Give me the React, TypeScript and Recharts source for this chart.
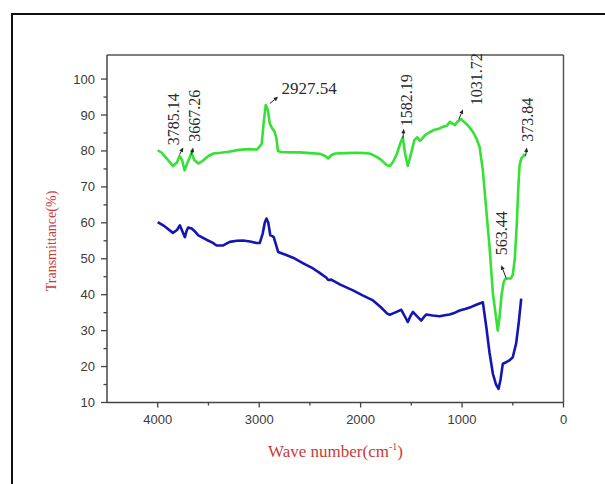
import { Label, Line, LineChart, ReferenceDot, ReferenceLine, XAxis, YAxis } from "recharts";

// green spectrum (upper)
const greenWn = [
  4000, 3960, 3900, 3850, 3810, 3785, 3760, 3735, 3710, 3690, 3667, 3640, 3600, 3560, 3500, 3450, 3380, 3300,
  3200, 3100, 3020, 2975, 2955, 2935, 2915, 2895, 2870, 2850, 2830, 2815, 2780, 2700, 2600, 2500, 2400, 2350,
  2320, 2290, 2250, 2150, 2050, 1950, 1900, 1850, 1800, 1740, 1710, 1680, 1645, 1610, 1585, 1560, 1535, 1510,
  1470, 1440, 1415, 1390, 1365, 1320, 1280, 1230, 1190, 1150, 1120, 1095, 1070, 1040, 1010, 990, 960, 930, 893,
  860, 827, 795, 761, 729, 696, 648, 630, 610, 590, 575, 550, 520, 500, 480, 460, 445, 433, 415, 395, 385,
];
const greenT = [
  80.2, 79.5, 77.5, 75.8, 76.8, 78.6, 77.5, 74.6, 76.5, 77.8, 79.6, 77.5, 76.5, 77.2, 78.6, 79.3, 79.5, 79.8,
  80.3, 80.5, 80.4, 82, 88, 92.8, 91.5, 87.6, 86.2, 85.5, 83.5, 80, 79.7, 79.6, 79.6, 79.4, 79.2, 78.6,
  77.9, 78.8, 79.3, 79.4, 79.5, 79.4, 79.2, 78.5, 77.6, 76, 75.8, 77, 79, 82, 83.8, 79, 75.8, 78.5,
  83, 83.8, 82.8, 83.5, 84.4, 85.2, 85.8, 86.2, 86.7, 87, 88.1, 87.6, 87.2, 88.3, 88.9, 88.3, 87.6, 86.7, 85.3,
  83.6, 81.1, 74.6, 63.5, 53.3, 40.3, 30, 34, 40, 43.5, 44.3, 44.5, 44.5, 45.5, 50, 60, 70, 76, 78, 78.5, 79.2,
];

// blue spectrum (lower)
const blueWn = [
  4000, 3930, 3850, 3810, 3782, 3755, 3732, 3715, 3700, 3665, 3630, 3600, 3520, 3460, 3420, 3355, 3290, 3220,
  3158, 3090, 3026, 2994, 2965, 2945, 2928, 2910, 2890, 2870, 2856, 2835, 2813, 2740, 2666, 2570, 2469, 2400,
  2337, 2320, 2290, 2200, 2075, 1980, 1878, 1800, 1740, 1713, 1680, 1640, 1599, 1565, 1534, 1510, 1484, 1450,
  1402, 1375, 1352, 1290, 1221, 1170, 1123, 1070, 1024, 970, 909, 860, 795, 761, 730, 696, 665, 640, 620,
  598, 565, 530, 500, 467, 440, 417,
];
const blueT = [
  60.2, 59, 57.2, 58, 59.3, 57.5, 56, 57.8, 58.7, 58.4, 57.5, 56.5, 55.3, 54.5, 53.7, 53.7, 54.7, 55,
  55.1, 54.8, 54.4, 54.4, 57, 60, 61.2, 60, 56.5, 56.3, 56, 54, 51.9, 51.1, 50.3, 48.8, 47.3, 46,
  44.7, 44.1, 44.2, 42.8, 41.2, 39.8, 38.4, 36.5, 34.8, 34.4, 34.8, 35.3, 35.8, 34, 32.4, 34, 35.2, 34.2,
  32.8, 33.8, 34.5, 34.2, 34, 34.3, 34.5, 35, 35.6, 36, 36.6, 37.2, 37.9, 31, 24, 18, 15, 13.8, 16.5,
  20.8, 21.2, 21.8, 22.6, 26.4, 32.5, 38.9,
];

const xTicks = [4000, 3500, 3000, 2500, 2000, 1500, 1000, 500, 0];
const yTicks = [10, 15, 20, 25, 30, 35, 40, 45, 50, 55, 60, 65, 70, 75, 80, 85, 90, 95, 100];

// peak annotations
const peakLabels = ["3785.14", "3667.26", "2927.54", "1582.19", "1031.72", "373.84", "563.44"];
const peakWn = [3785.14, 3667.26, 2927.54, 1582.19, 1031.72, 373.84, 563.44];
const peakT = [79, 79, 93, 83.5, 88.8, 78.5, 44.5];

// pixel offsets from the anchor: arrow tail, arrow tip, text spot
const annotLayout = [
  { rot: true, size: 16, tail: [0, 0], tip: [3.7, -7], text: [-5.6, -9.4] },
  { rot: true, size: 16, tail: [0, 0], tip: [1.7, -7], text: [3.7, -12.7] },
  { rot: false, size: 17, tail: [3.3, -0.8], tip: [11.6, -7.4], text: [15, -9.8] },
  { rot: true, size: 16, tail: [0, 0], tip: [0.7, -9.5], text: [3.4, -12] },
  { rot: true, size: 16, tail: [0, 0], tip: [4.1, -9.9], text: [18, -14.2] },
  { rot: true, size: 16, tail: [0, 0], tip: [1.2, -8.9], text: [2.2, -14.5] },
  { rot: true, size: 16, tail: [0, 0], tip: [-5.1, -13.2], text: [-5.1, -23.2] },
];

const greenData = greenWn.map((wn, i) => ({ wn, t: greenT[i] }));
const blueData = blueWn.map((wn, i) => ({ wn, t: blueT[i] }));

const Y_TOP = 106.7;
const SANS = "'Liberation Sans', Arial, sans-serif";
const SERIF = "'Liberation Serif', 'Times New Roman', serif";
const AXIS = "#444";
const TITLE = "#c93a3a";

const XTick = (props: any) => {
  const { x, y, payload } = props;
  const major = payload.value % 1000 === 0;
  return (
    <g>
      <line x1={x} x2={x} y1={y} y2={y + (major ? 5 : 3)} stroke={AXIS} strokeWidth={1.3} />
      {major && (
        <text x={x} y={y + 21} textAnchor="middle" fontFamily={SANS} fontSize={13} fill="#3a3a3a">
          {payload.value}
        </text>
      )}
    </g>
  );
};

const YTick = (props: any) => {
  const { x, y, payload } = props;
  const major = payload.value % 10 === 0;
  return (
    <g>
      <line x1={x - (major ? 6 : 3.5)} x2={x} y1={y} y2={y} stroke={AXIS} strokeWidth={1.3} />
      {major && (
        <text x={x - 12} y={y + 4.5} textAnchor="end" fontFamily={SANS} fontSize={13} fill="#3a3a3a">
          {payload.value}
        </text>
      )}
    </g>
  );
};

function Annotation({ cx, cy, idx }: { cx: number; cy: number; idx: number }) {
  const l = annotLayout[idx];
  const x1 = cx + l.tail[0];
  const y1 = cy + l.tail[1];
  const x2 = cx + l.tip[0];
  const y2 = cy + l.tip[1];
  const ang = Math.atan2(y2 - y1, x2 - x1);
  const hl = 4.5;
  const hw = 2;
  const bx = x2 - hl * Math.cos(ang);
  const by = y2 - hl * Math.sin(ang);
  const head = `${x2},${y2} ${bx - hw * Math.sin(ang)},${by + hw * Math.cos(ang)} ${bx + hw * Math.sin(ang)},${by - hw * Math.cos(ang)}`;
  const tx = cx + l.text[0];
  const ty = cy + l.text[1];
  return (
    <g>
      <line x1={x1} y1={y1} x2={bx} y2={by} stroke="#222" strokeWidth={1} />
      <polygon points={head} fill="#222" />
      {l.rot ? (
        <text
          transform={`translate(${tx},${ty}) rotate(-90)`}
          textAnchor="start"
          dy="0.33em"
          fontFamily={SERIF}
          fontSize={l.size}
          fill="#2a2a2a"
        >
          {peakLabels[idx]}
        </text>
      ) : (
        <text x={tx} y={ty} fontFamily={SERIF} fontSize={l.size} fill="#2a2a2a">
          {peakLabels[idx]}
        </text>
      )}
    </g>
  );
}

export default function App() {
  return (
    <div style={{ position: "absolute", left: 0, top: 0, width: 605, height: 484, overflow: "hidden", background: "#fff" }}>
      <div
        style={{
          position: "absolute",
          left: 11,
          top: 13,
          width: 594,
          height: 471,
          boxSizing: "border-box",
          borderLeft: "2px solid #111",
          borderTop: "2px solid #111",
        }}
      />
      <div style={{ position: "absolute", left: 0, top: 0 }}>
        <LineChart width={605} height={484} data={greenData} margin={{ top: 55, right: 41.5, left: 60, bottom: 41.5 }}>
          <XAxis
            dataKey="wn"
            type="number"
            domain={[0, 4500]}
            reversed
            ticks={xTicks}
            interval={0}
            height={40}
            tickLine={false}
            tickSize={0}
            tickMargin={0}
            tick={XTick}
            axisLine={{ stroke: AXIS, strokeWidth: 1.5 }}
          >
            <Label
              content={() => (
                <text x={335.5} y={457} textAnchor="middle" fontFamily={SERIF} fontSize={17} fill={TITLE}>
                  Wave number(cm
                  <tspan dy={-7} fontSize={10}>
                    -1
                  </tspan>
                  <tspan dy={7}>)</tspan>
                </text>
              )}
            />
          </XAxis>
          <YAxis
            type="number"
            domain={[10, Y_TOP]}
            ticks={yTicks}
            interval={0}
            width={47}
            tickLine={false}
            tickSize={0}
            tickMargin={0}
            tick={YTick}
            axisLine={{ stroke: AXIS, strokeWidth: 1.5 }}
          >
            <Label
              content={() => (
                <text
                  transform="translate(56,241) rotate(-90)"
                  textAnchor="middle"
                  fontFamily={SERIF}
                  fontSize={14}
                  fill={TITLE}
                >
                  Transmittance(%)
                </text>
              )}
            />
          </YAxis>
          <ReferenceLine y={Y_TOP} stroke="#555" strokeWidth={1.5} />
          <ReferenceLine x={0} stroke="#555" strokeWidth={1.5} />
          <Line
            data={greenData}
            dataKey="t"
            type="linear"
            stroke="#36e136"
            strokeWidth={2.6}
            strokeLinejoin="round"
            dot={false}
            isAnimationActive={false}
          />
          <Line
            data={blueData}
            dataKey="t"
            type="linear"
            stroke="#1515b2"
            strokeWidth={2.6}
            strokeLinejoin="round"
            dot={false}
            isAnimationActive={false}
          />
          {peakLabels.map((lab, i) => (
            <ReferenceDot
              key={lab}
              x={peakWn[i]}
              y={peakT[i]}
              r={0}
              shape={(p: any) => <Annotation cx={p.cx} cy={p.cy} idx={i} />}
            />
          ))}
        </LineChart>
      </div>
    </div>
  );
}
